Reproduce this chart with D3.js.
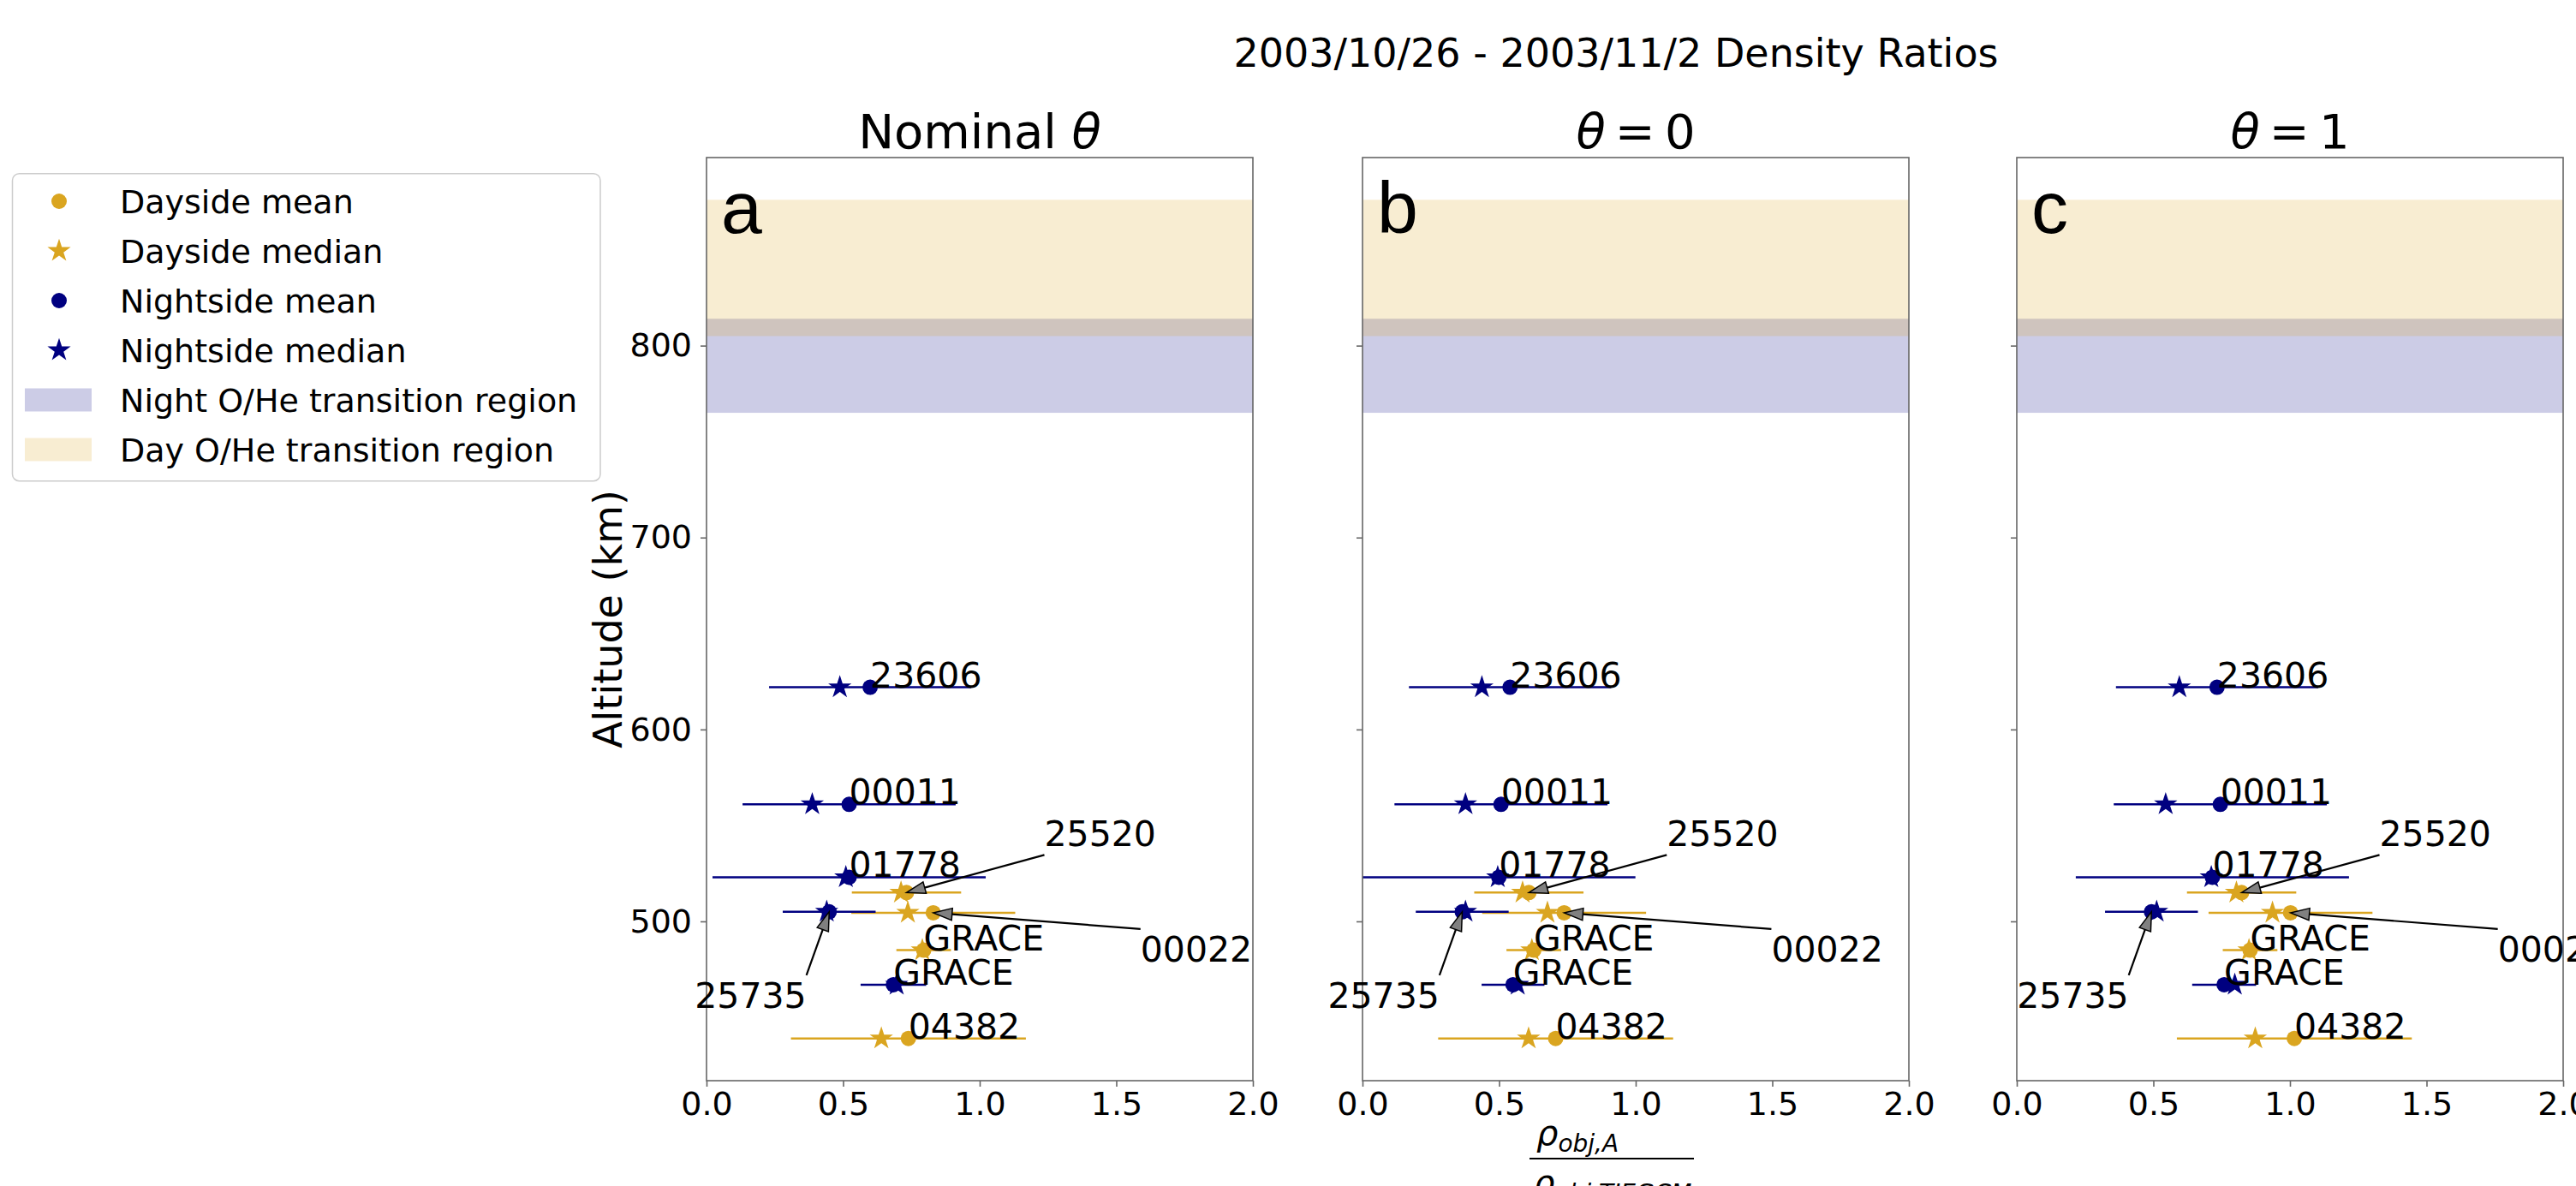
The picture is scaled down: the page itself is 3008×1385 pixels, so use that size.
<!DOCTYPE html>
<html lang="en">
<head>
<meta charset="UTF-8" />
<title>2003/10/26 - 2003/11/2 Density Ratios</title>
<script src="https://d3js.org/d3.v7.min.js"></script>
<style>
  body { margin: 0; background: #fff; }
  svg { display: block; font-family: "DejaVu Sans", sans-serif; }
  .tick text { fill: #000; }
</style>
</head>
<body>
<svg width="3008" height="1385"></svg>
<script>
// rows of the plot, top to bottom
const satellites = ["23606", "00011", "01778", "25520", "00022", "25735", "GRACE", "GRACE", "04382"];
const sides      = ["night", "night", "night", "day", "day", "night", "day", "night", "day"];
const altitudes  = [622, 561, 523, 515, 504.5, 505, 485, 467, 439];

// density ratio per panel: mean, median, error (+/- around mean)
const meanNominal   = [0.599, 0.522, 0.522, 0.732, 0.830, 0.449, 0.795, 0.684, 0.739];
const medianNominal = [0.488, 0.387, 0.510, 0.712, 0.737, 0.440, 0.790, 0.696, 0.640];
const errNominal    = [0.37, 0.39, 0.50, 0.20, 0.30, 0.17, 0.10, 0.12, 0.43];

const meanTheta0   = [0.540, 0.507, 0.499, 0.609, 0.738, 0.365, 0.627, 0.551, 0.707];
const medianTheta0 = [0.437, 0.377, 0.495, 0.586, 0.677, 0.377, 0.620, 0.568, 0.608];
const errTheta0    = [0.37, 0.39, 0.50, 0.20, 0.30, 0.17, 0.10, 0.115, 0.43];

const meanTheta1   = [0.733, 0.745, 0.716, 0.823, 1.002, 0.493, 0.854, 0.759, 1.016];
const medianTheta1 = [0.595, 0.545, 0.712, 0.804, 0.936, 0.512, 0.850, 0.798, 0.873];
const errTheta1    = [0.37, 0.39, 0.50, 0.20, 0.30, 0.17, 0.10, 0.117, 0.43];

const panelLetters = ["a", "b", "c"];
const xTicks = [0, 0.5, 1, 1.5, 2];
const yTicks = [500, 600, 700, 800];
const nightBand = [765, 814];
const dayBand = [805, 876];
const legendLabels = ["Dayside mean", "Dayside median", "Nightside mean", "Nightside median",
                      "Night O/He transition region", "Day O/He transition region"];

const colors = { day: "#daa520", night: "#000080" };

// label offsets (px) for the annotated points with arrows
const arrowLabels = { "25520": [161, -54], "00022": [242, 57], "25735": [-157, 112] };

const svg = d3.select("svg");
svg.append("rect").attr("width", 3008).attr("height", 1385).attr("fill", "#fff");

const panelW = 638, plotTop = 184, plotBottom = 1262;
const panelX = [825, 1591, 2355];
const y = d3.scaleLinear().domain([417, 898]).range([plotBottom, plotTop]);
const starSize = 230, dotR = 9;

const panels = [
  { mean: meanNominal, median: medianNominal, err: errNominal },
  { mean: meanTheta0, median: medianTheta0, err: errTheta0 },
  { mean: meanTheta1, median: medianTheta1, err: errTheta1 }
];

// suptitle
svg.append("text").attr("x", 1887).attr("y", 78).attr("text-anchor", "middle")
  .attr("font-size", 46).text("2003/10/26 - 2003/11/2 Density Ratios");

function drawArrow(g, x1, y1, x2, y2) {
  const L = Math.hypot(x2 - x1, y2 - y1);
  const ux = (x2 - x1) / L, uy = (y2 - y1) / L;
  const hl = 22, hw = 7;
  const bx = x2 - ux * hl, by = y2 - uy * hl;
  g.append("line").attr("x1", x1).attr("y1", y1).attr("x2", bx).attr("y2", by)
    .attr("stroke", "#000").attr("stroke-width", 2.2);
  g.append("path")
    .attr("d", `M${x2},${y2}L${bx - uy * hw},${by + ux * hw}L${bx + uy * hw},${by - ux * hw}Z`)
    .attr("fill", "#808080").attr("stroke", "#000").attr("stroke-width", 1.5);
}

panels.forEach((p, i) => {
  const x = d3.scaleLinear().domain([0, 2]).range([panelX[i], panelX[i] + panelW]);
  const g = svg.append("g");

  g.append("clipPath").attr("id", "clip" + i)
    .append("rect").attr("x", panelX[i]).attr("y", plotTop).attr("width", panelW).attr("height", plotBottom - plotTop);

  const plot = g.append("g").attr("clip-path", `url(#clip${i})`);

  // transition bands
  plot.append("rect").attr("x", panelX[i]).attr("width", panelW)
    .attr("y", y(nightBand[1])).attr("height", y(nightBand[0]) - y(nightBand[1]))
    .attr("fill", colors.night).attr("fill-opacity", 0.2);
  plot.append("rect").attr("x", panelX[i]).attr("width", panelW)
    .attr("y", y(dayBand[1])).attr("height", y(dayBand[0]) - y(dayBand[1]))
    .attr("fill", colors.day).attr("fill-opacity", 0.2);

  // error bars and markers
  satellites.forEach((s, k) => {
    const c = colors[sides[k]];
    const yy = y(altitudes[k]);
    plot.append("line")
      .attr("x1", x(p.mean[k] - p.err[k])).attr("x2", x(p.mean[k] + p.err[k]))
      .attr("y1", yy).attr("y2", yy)
      .attr("stroke", c).attr("stroke-width", 2.5);
    plot.append("path")
      .attr("d", d3.symbol().type(d3.symbolStar).size(starSize)())
      .attr("transform", `translate(${x(p.median[k])},${yy})`)
      .attr("fill", c);
    plot.append("circle")
      .attr("cx", x(p.mean[k])).attr("cy", yy).attr("r", dotR)
      .attr("fill", c);
  });

  // spines
  g.append("rect").attr("x", panelX[i]).attr("y", plotTop).attr("width", panelW).attr("height", plotBottom - plotTop)
    .attr("fill", "none").attr("stroke", "#666").attr("stroke-width", 1.6);

  // axes
  const xAxis = g.append("g").attr("transform", `translate(0,${plotBottom})`)
    .call(d3.axisBottom(x).tickValues(xTicks).tickFormat(d3.format(".1f")).tickSize(7).tickPadding(6).tickSizeOuter(0));
  xAxis.select(".domain").remove();
  xAxis.selectAll("line").attr("stroke", "#666").attr("stroke-width", 1.6);
  xAxis.selectAll("text").attr("font-size", 38).attr("font-family", "DejaVu Sans");

  const yAxis = g.append("g").attr("transform", `translate(${panelX[i]},0)`)
    .call(d3.axisLeft(y).tickValues(yTicks).tickSize(7).tickPadding(10).tickSizeOuter(0)
      .tickFormat(i === 0 ? d3.format("d") : () => ""));
  yAxis.select(".domain").remove();
  yAxis.selectAll("line").attr("stroke", "#666").attr("stroke-width", 1.6);
  yAxis.selectAll("text").attr("font-size", 38).attr("font-family", "DejaVu Sans");

  // panel letter
  g.append("text").attr("x", panelX[i] + 17).attr("y", plotTop + 88)
    .attr("font-family", "Liberation Sans, Arial, sans-serif").attr("font-size", 86)
    .text(panelLetters[i]);

  // title
  const t = g.append("text").attr("x", panelX[i] + panelW / 2).attr("y", 173)
    .attr("text-anchor", "middle").attr("font-size", 56);
  if (i === 0) {
    t.append("tspan").text("Nominal ");
    t.append("tspan").attr("font-style", "italic").text("θ");
  } else {
    t.append("tspan").attr("font-style", "italic").text("θ");
    t.append("tspan").text("\u2009=\u2009" + (i === 1 ? "0" : "1"));
  }

  // satellite labels
  satellites.forEach((s, k) => {
    const px = x(p.mean[k]), py = y(altitudes[k]);
    const off = arrowLabels[s];
    if (!off) {
      g.append("text").attr("x", px).attr("y", py).attr("font-size", 41).text(s);
      return;
    }
    const tx = px + off[0], ty = py + off[1];
    const lab = g.append("text").attr("x", tx).attr("y", ty).attr("font-size", 41).text(s);
    const bb = lab.node().getBBox();
    const xs = [bb.x, bb.x + bb.width / 2, bb.x + bb.width];
    const ys = [bb.y, bb.y + bb.height / 2, bb.y + bb.height];
    const sx = xs.reduce((a, b) => Math.abs(b - px) < Math.abs(a - px) ? b : a);
    const sy = ys.reduce((a, b) => Math.abs(b - py) < Math.abs(a - py) ? b : a);
    drawArrow(g, sx, sy, px, py);
  });
});

// y label
svg.append("text").attr("transform", "translate(726,723) rotate(-90)")
  .attr("text-anchor", "middle").attr("font-size", 46).text("Altitude (km)");

// x label (fraction, partly cut at the bottom edge)
const num = svg.append("text").attr("x", 1794).attr("y", 1337).attr("font-size", 40);
num.append("tspan").attr("font-style", "italic").text("ρ");
num.append("tspan").attr("font-style", "italic").attr("font-size", 28).attr("dy", 8).text("obj,A");
svg.append("line").attr("x1", 1786).attr("x2", 1978).attr("y1", 1353).attr("y2", 1353)
  .attr("stroke", "#000").attr("stroke-width", 2);
const den = svg.append("text").attr("x", 1790).attr("y", 1395).attr("font-size", 40);
den.append("tspan").attr("font-style", "italic").text("ρ");
den.append("tspan").attr("font-style", "italic").attr("font-size", 28).attr("dy", 8).text("obj,TIEGCM");

// legend
const lg = svg.append("g");
lg.append("rect").attr("x", 14.5).attr("y", 202.7).attr("width", 686.5).attr("height", 359)
  .attr("rx", 8).attr("fill", "#fff").attr("stroke", "#cccccc").attr("stroke-width", 1.5);
legendLabels.forEach((lab, k) => {
  const cy = 235 + k * 58;
  if (k === 0 || k === 2) {
    lg.append("circle").attr("cx", 69).attr("cy", cy).attr("r", dotR)
      .attr("fill", k === 0 ? colors.day : colors.night);
  } else if (k === 1 || k === 3) {
    lg.append("path").attr("d", d3.symbol().type(d3.symbolStar).size(starSize)())
      .attr("transform", `translate(69,${cy})`)
      .attr("fill", k === 1 ? colors.day : colors.night);
  } else {
    lg.append("rect").attr("x", 29).attr("y", cy - 13.5).attr("width", 78).attr("height", 27)
      .attr("fill", k === 4 ? colors.night : colors.day).attr("fill-opacity", 0.2);
  }
  lg.append("text").attr("x", 140).attr("y", cy).attr("dy", "0.36em")
    .attr("font-size", 38).text(lab);
});
</script>
</body>
</html>
